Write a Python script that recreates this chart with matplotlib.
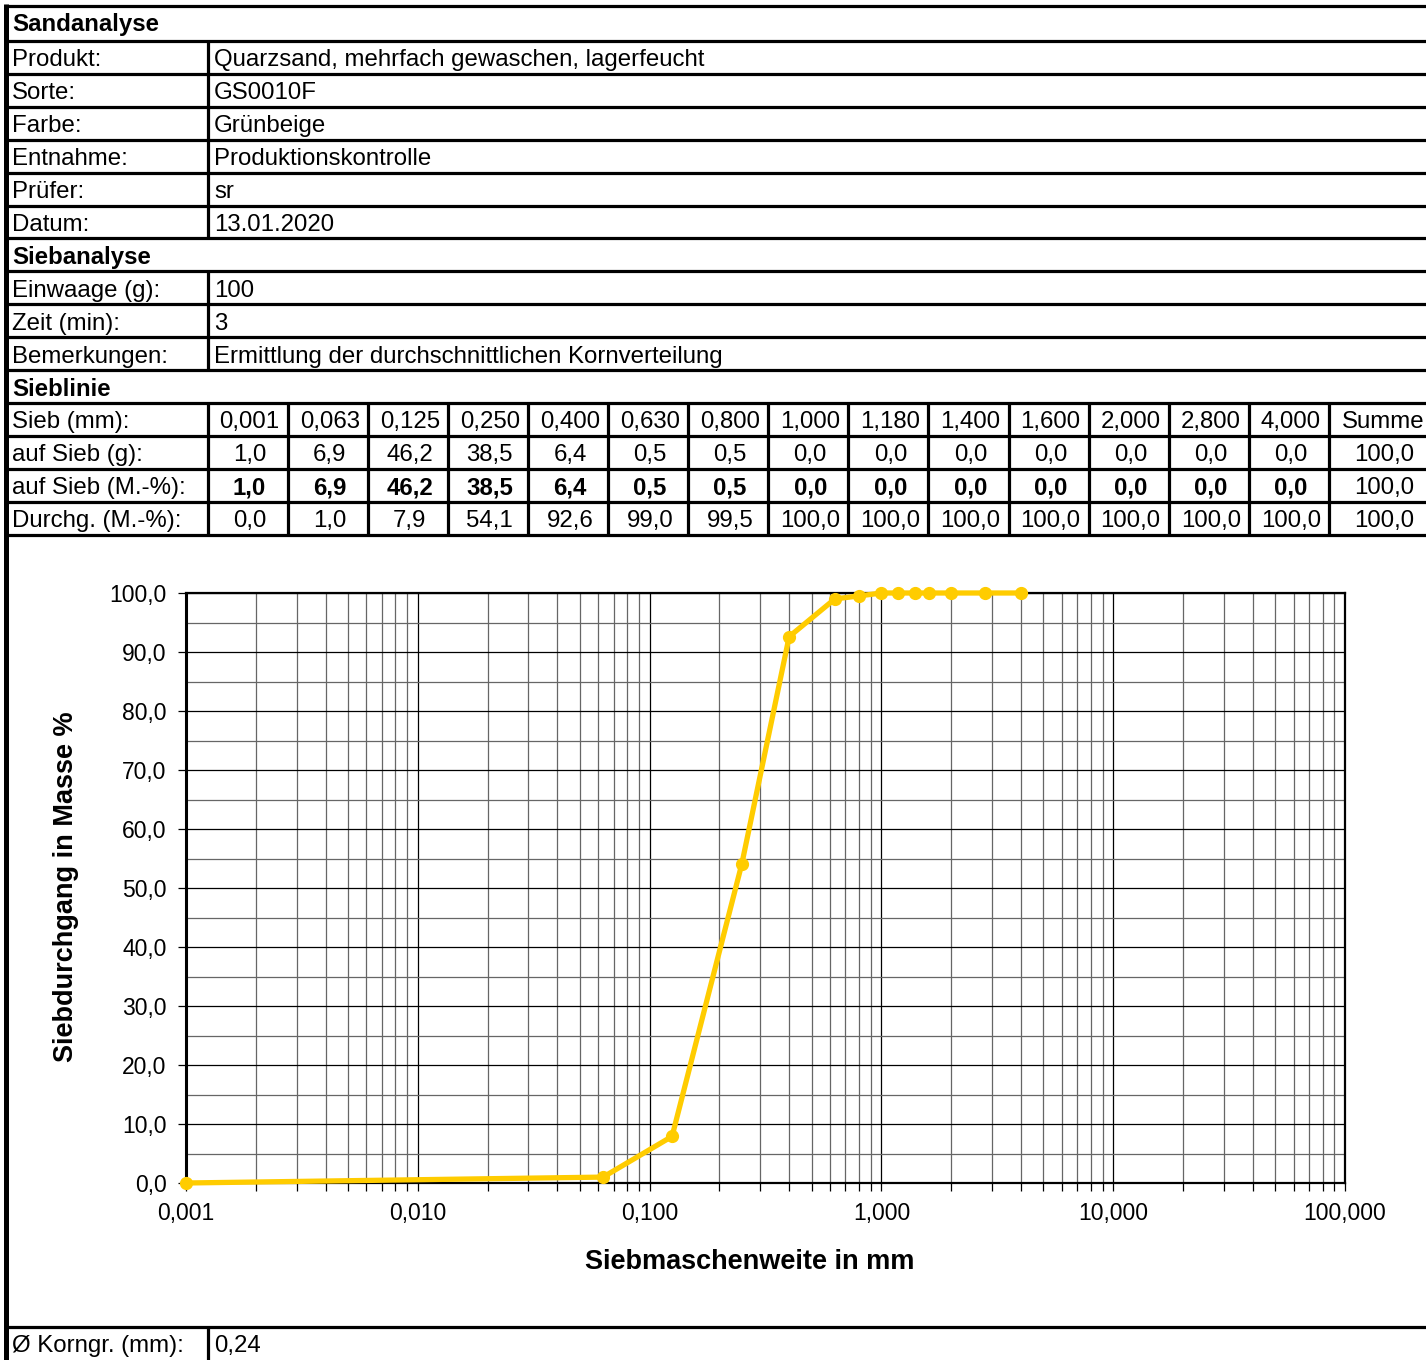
import numpy as np
import matplotlib.pyplot as plt
from matplotlib.ticker import FuncFormatter, FixedLocator, LogLocator

plt.rcParams['font.family'] = ['Liberation Sans', 'DejaVu Sans']

# header info
info1 = [("Produkt:", "Quarzsand, mehrfach gewaschen, lagerfeucht"),
         ("Sorte:", "GS0010F"),
         ("Farbe:", "Grünbeige"),
         ("Entnahme:", "Produktionskontrolle"),
         ("Prüfer:", "sr"),
         ("Datum:", "13.01.2020")]
info2 = [("Einwaage (g):", "100"),
         ("Zeit (min):", "3"),
         ("Bemerkungen:", "Ermittlung der durchschnittlichen Kornverteilung")]

# sieve data
sieb = [0.001, 0.063, 0.125, 0.250, 0.400, 0.630, 0.800, 1.000, 1.180,
        1.400, 1.600, 2.000, 2.800, 4.000]
auf_g = [1.0, 6.9, 46.2, 38.5, 6.4, 0.5, 0.5, 0.0, 0.0, 0.0, 0.0, 0.0, 0.0, 0.0]
auf_pct = [1.0, 6.9, 46.2, 38.5, 6.4, 0.5, 0.5, 0.0, 0.0, 0.0, 0.0, 0.0, 0.0, 0.0]
durchg = [0.0, 1.0, 7.9, 54.1, 92.6, 99.0, 99.5, 100.0, 100.0, 100.0, 100.0,
          100.0, 100.0, 100.0]
summe = [100.0, 100.0, 100.0]
korngr = "0,24"

W, H = 1426, 1360
fig = plt.figure(figsize=(W / 100, H / 100), dpi=100)
bg = fig.add_axes([0, 0, 1, 1])
bg.set_xlim(0, W)
bg.set_ylim(H, 0)
bg.axis('off')

fs = 17.3
lw = 2.3
dy = 3


def hline(y, x0=5, x1=W):
    bg.plot([x0, x1], [y, y], color='black', lw=lw, solid_capstyle='butt')


def vline(x, y0, y1, w=lw):
    bg.plot([x, x], [y0, y1], color='black', lw=w, solid_capstyle='butt')


def comma(v, fmt):
    return format(v, fmt).replace('.', ',')


rows = [41 + 32.9 * k for k in range(16)]
hline(6)
for y in rows:
    hline(y)

# section titles
bg.text(12, 24 + 1, "Sandanalyse", fontsize=fs, fontweight='bold', va='center')
for i, (a, b) in enumerate(info1):
    yc = (rows[i] + rows[i + 1]) / 2 + dy
    bg.text(12, yc, a, fontsize=fs, va='center')
    bg.text(214, yc, b, fontsize=fs, va='center')
vline(207.5, rows[0], rows[6])
bg.text(12, (rows[6] + rows[7]) / 2 + dy, "Siebanalyse", fontsize=fs,
        fontweight='bold', va='center')
for i, (a, b) in enumerate(info2):
    yc = (rows[7 + i] + rows[8 + i]) / 2 + dy
    bg.text(12, yc, a, fontsize=fs, va='center')
    bg.text(214, yc, b, fontsize=fs, va='center')
vline(207.5, rows[7], rows[10])
bg.text(12, (rows[10] + rows[11]) / 2 + dy, "Sieblinie", fontsize=fs,
        fontweight='bold', va='center')

# sieve table
labels = ["Sieb (mm):", "auf Sieb (g):", "auf Sieb (M.-%):", "Durchg. (M.-%):"]
colx = [207.5 + 80.1 * k for k in range(15)]
for x in colx:
    vline(x, rows[11], rows[15])
for r, lab in enumerate(labels):
    yc = (rows[11 + r] + rows[12 + r]) / 2 + dy
    bg.text(12, yc, lab, fontsize=fs, va='center')
    for c in range(len(sieb)):
        xc = (colx[c] + colx[c + 1]) / 2 + 2
        if r == 0:
            s, wt = comma(sieb[c], '.3f'), 'normal'
        elif r == 1:
            s, wt = comma(auf_g[c], '.1f'), 'normal'
        elif r == 2:
            s, wt = comma(auf_pct[c], '.1f'), 'bold'
        else:
            s, wt = comma(durchg[c], '.1f'), 'normal'
        bg.text(xc, yc, s, fontsize=fs, va='center', ha='center', fontweight=wt)
    if r == 0:
        bg.text(1342, yc, "Summe", fontsize=fs, va='center', ha='left')
    else:
        bg.text(1384, yc, comma(summe[r - 1], '.1f'), fontsize=fs,
                va='center', ha='center')

# bottom row
hline(1327)
vline(207.5, 1327, H)
bg.text(12, 1345 + 1, "Ø Korngr. (mm):", fontsize=fs, va='center')
bg.text(214, 1345 + 1, korngr, fontsize=fs, va='center')

# left border
vline(6, 4, H, w=3.6)

# chart
ax = fig.add_axes([186 / W, 1 - 1183 / H, 1159 / W, 590 / H])
ax.set_xscale('log')
ax.set_xlim(0.001, 100)
ax.set_ylim(0, 100)
ax.xaxis.set_major_locator(LogLocator(base=10, numticks=10))
ax.xaxis.set_minor_locator(LogLocator(base=10, subs=np.arange(2, 10), numticks=20))
ax.xaxis.set_major_formatter(FuncFormatter(lambda v, p: comma(v, '.3f')))
ax.xaxis.set_minor_formatter(FuncFormatter(lambda v, p: ''))
ax.yaxis.set_major_locator(FixedLocator(np.arange(0, 101, 10)))
ax.yaxis.set_minor_locator(FixedLocator(np.arange(5, 100, 10)))
ax.yaxis.set_major_formatter(FuncFormatter(lambda v, p: comma(v, '.1f')))
ax.grid(True, which='major', color='black', lw=0.9)
ax.grid(True, which='minor', color='#666666', lw=0.9)
ax.tick_params(axis='x', which='both', direction='out', length=6, width=0.9,
               labelsize=16.5, pad=8)
ax.tick_params(axis='y', which='major', direction='out', length=6, width=0.9,
               labelsize=16.5, pad=8)
ax.tick_params(axis='y', which='minor', length=0)
for sp in ax.spines.values():
    sp.set_linewidth(1.6)
ax.spines['left'].set_linewidth(2.2)
ax.set_axisbelow(True)

ax.plot(sieb, durchg, color='#FFCC00', lw=3.8, marker='o', markersize=8.5,
        clip_on=False, zorder=5)

ax.set_xlabel("Siebmaschenweite in mm", fontsize=19.5, fontweight='bold')
ax.set_ylabel("Siebdurchgang in Masse %", fontsize=19.5, fontweight='bold')
ax.xaxis.set_label_coords((750 - 186) / 1159, -(1262 - 1183) / 590)
ax.xaxis.label.set_va('center')
ax.yaxis.set_label_coords((66 - 186) / 1159, (1183 - 887) / 590)
ax.yaxis.label.set_va('center')

fig.savefig("out.png", dpi=100)
